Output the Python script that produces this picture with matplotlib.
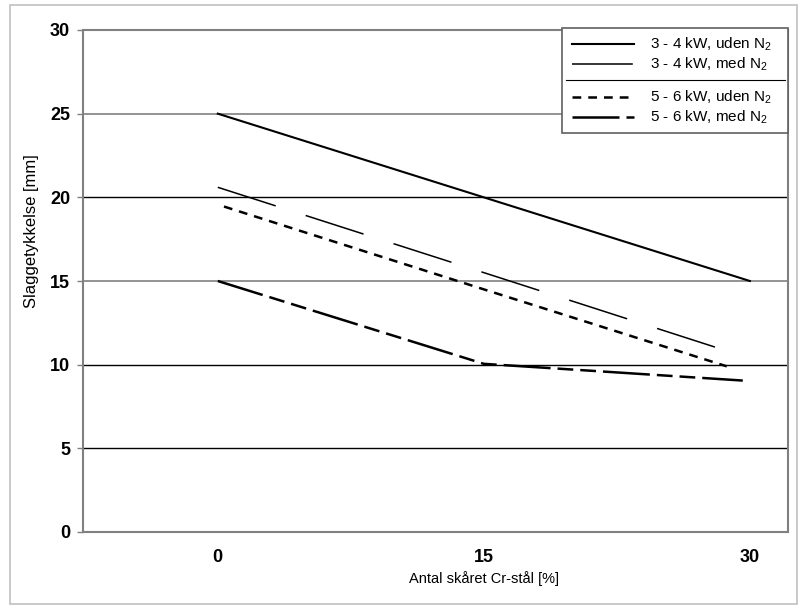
import matplotlib
matplotlib.use("Agg")
import matplotlib.pyplot as plt
from matplotlib.lines import Line2D
from matplotlib.patches import Rectangle

plt.rcParams['font.family'] = ['Liberation Sans', 'DejaVu Sans']
plt.rcParams['mathtext.fontset'] = 'custom'
plt.rcParams['mathtext.rm'] = 'Liberation Sans'

# data
x_cr = [0, 15, 30]
tyk_34_uden = [25.0, 20.0, 15.0]
x_34_med = [0, 15, 29.5]
tyk_34_med = [20.6, 15.5, 10.55]
x_56_uden = [0.35, 15, 28.7]
tyk_56_uden = [19.45, 14.5, 9.9]
x_56_med = [0, 15, 29.6]
tyk_56_med = [15.0, 10.05, 9.05]

labels = [r"3 - 4 kW, uden N$_2$", r"3 - 4 kW, med N$_2$",
          r"5 - 6 kW, uden N$_2$", r"5 - 6 kW, med N$_2$"]
x_ticks = [0, 15, 30]
y_ticks = [0, 5, 10, 15, 20, 25, 30]

stil = [
    dict(color='black', lw=1.5, ls='-'),
    dict(color='black', lw=1.1, ls=(0, (39.8, 20.6))),
    dict(color='black', lw=1.8, ls=(0, (3.5, 2.8))),
    dict(color='black', lw=1.8, ls=(0, (18.8, 2.8, 6.3, 2.8, 6.3, 2.8))),
]

fig = plt.figure(figsize=(7.99, 6.07), dpi=100)
fig.patches.append(Rectangle((10/799, 3/607), 787/799, 599/607, transform=fig.transFigure,
                             fill=False, edgecolor='#c0c0c0', lw=1.2))
ax = fig.add_axes([83/799, 75/607, 705/799, 502/607])

ax.plot(x_cr, tyk_34_uden, **stil[0])
ax.plot(x_34_med, tyk_34_med, **stil[1])
ax.plot(x_56_uden, tyk_56_uden, **stil[2])
ax.plot(x_56_med, tyk_56_med, **stil[3])

ax.set_xlim(-7.6, 32.15)
ax.set_ylim(0, 30)
ax.set_xticks(x_ticks)
ax.set_yticks(y_ticks)
ax.set_xticklabels([str(v) for v in x_ticks], fontsize=13, fontweight='bold')
ax.set_yticklabels([str(v) for v in y_ticks], fontsize=13, fontweight='bold')
ax.tick_params(axis='x', length=0, pad=12)
ax.tick_params(axis='y', direction='out', length=4.3, width=1, color='#808080', pad=5)

# horizontal gridlines, mixed grey/black as in the original
grid_farver = {5: 'black', 10: 'black', 15: '#808080', 20: 'black', 25: '#808080', 30: '#808080'}
for v, c in grid_farver.items():
    ax.axhline(v, color=c, lw=1.2 if c != 'black' else 1.0, zorder=0.5)

for s in ax.spines.values():
    s.set_color('#808080')
    s.set_linewidth(1.5)

ax.set_xlabel("Antal skåret Cr-stål [%]", fontsize=10.5)
ax.xaxis.set_label_coords(0.569, -0.078)
ax.xaxis.label.set_va('top')
ax.set_ylabel("Slaggetykkelse [mm]", fontsize=12)
ax.yaxis.set_label_coords(-0.063, 0.6)

# legend drawn by hand (it has a separator line)
ax.add_patch(Rectangle((0.6794, 0.7948), 0.3206, 0.2092, transform=ax.transAxes,
                       facecolor='white', edgecolor='#606060', lw=1.2, zorder=5, clip_on=False))
rows = [0.9721, 0.9323, 0.8665, 0.8267]
for y, st, lab in zip(rows, stil, labels):
    ax.add_line(Line2D([0.6936, 0.7816], [y, y], transform=ax.transAxes, zorder=6, **st))
    ax.text(0.8043, y, lab, transform=ax.transAxes, fontsize=11, va='center', zorder=6)
ax.add_line(Line2D([0.6851, 0.9957], [0.9004, 0.9004], transform=ax.transAxes,
                   color='black', lw=0.8, zorder=6))

fig.savefig("out.png", dpi=100)
